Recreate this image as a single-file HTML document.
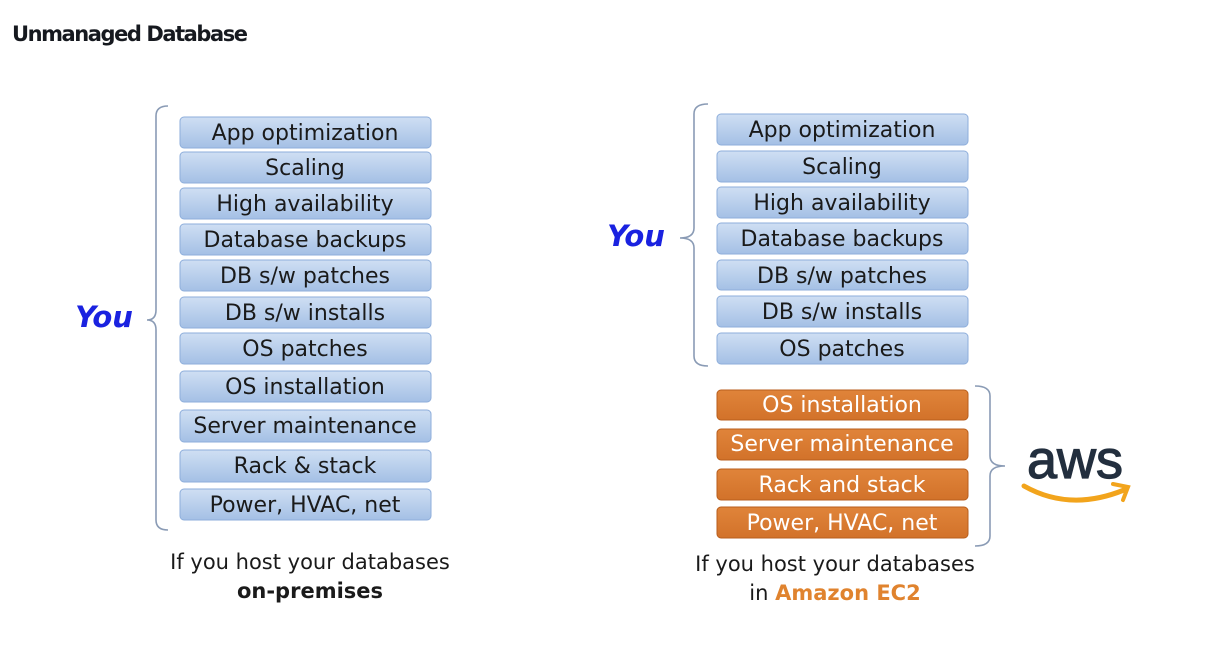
<!DOCTYPE html>
<html><head><style>
body{margin:0;background:#fff;width:1222px;height:648px;overflow:hidden}
svg text{font-family:"DejaVu Sans","Liberation Sans",sans-serif}
</style></head><body>
<svg width="1222" height="648" xmlns="http://www.w3.org/2000/svg">
<defs>
<linearGradient id="bl" x1="0" y1="0" x2="0" y2="1"><stop offset="0" stop-color="#cfdff3"/><stop offset="1" stop-color="#a4c0e5"/></linearGradient>
<linearGradient id="or" x1="0" y1="0" x2="0" y2="1"><stop offset="0" stop-color="#e0843a"/><stop offset="1" stop-color="#d2722a"/></linearGradient>
</defs>
<text x="12" y="41" font-weight="bold" font-size="21" fill="#16191f" style="font-family:'DejaVu Sans',sans-serif" textLength="236">Unmanaged Database</text>

<g font-size="22" fill="#1a1a1a" text-anchor="middle">
<g>
<rect x="180" y="117" width="251" height="31" rx="4" fill="url(#bl)" stroke="#8eaedb"/><text x="305" y="140">App optimization</text>
<rect x="180" y="152" width="251" height="31" rx="4" fill="url(#bl)" stroke="#8eaedb"/><text x="305" y="175">Scaling</text>
<rect x="180" y="188" width="251" height="31" rx="4" fill="url(#bl)" stroke="#8eaedb"/><text x="305" y="211">High availability</text>
<rect x="180" y="224" width="251" height="31" rx="4" fill="url(#bl)" stroke="#8eaedb"/><text x="305" y="247">Database backups</text>
<rect x="180" y="260" width="251" height="31" rx="4" fill="url(#bl)" stroke="#8eaedb"/><text x="305" y="283">DB s/w patches</text>
<rect x="180" y="297" width="251" height="31" rx="4" fill="url(#bl)" stroke="#8eaedb"/><text x="305" y="320">DB s/w installs</text>
<rect x="180" y="333" width="251" height="31" rx="4" fill="url(#bl)" stroke="#8eaedb"/><text x="305" y="356">OS patches</text>
<rect x="180" y="371" width="251" height="31" rx="4" fill="url(#bl)" stroke="#8eaedb"/><text x="305" y="394">OS installation</text>
<rect x="180" y="410" width="251" height="32" rx="4" fill="url(#bl)" stroke="#8eaedb"/><text x="305" y="433">Server maintenance</text>
<rect x="180" y="450" width="251" height="32" rx="4" fill="url(#bl)" stroke="#8eaedb"/><text x="305" y="473">Rack &amp; stack</text>
<rect x="180" y="489" width="251" height="31" rx="4" fill="url(#bl)" stroke="#8eaedb"/><text x="305" y="512">Power, HVAC, net</text>
</g>
<g>
<rect x="717" y="114" width="251" height="31" rx="4" fill="url(#bl)" stroke="#8eaedb"/><text x="842" y="137">App optimization</text>
<rect x="717" y="151" width="251" height="31" rx="4" fill="url(#bl)" stroke="#8eaedb"/><text x="842" y="174">Scaling</text>
<rect x="717" y="187" width="251" height="31" rx="4" fill="url(#bl)" stroke="#8eaedb"/><text x="842" y="210">High availability</text>
<rect x="717" y="223" width="251" height="31" rx="4" fill="url(#bl)" stroke="#8eaedb"/><text x="842" y="246">Database backups</text>
<rect x="717" y="260" width="251" height="30" rx="4" fill="url(#bl)" stroke="#8eaedb"/><text x="842" y="283">DB s/w patches</text>
<rect x="717" y="296" width="251" height="31" rx="4" fill="url(#bl)" stroke="#8eaedb"/><text x="842" y="319">DB s/w installs</text>
<rect x="717" y="333" width="251" height="31" rx="4" fill="url(#bl)" stroke="#8eaedb"/><text x="842" y="356">OS patches</text>
</g>
<g fill="#fff">
<rect x="717" y="390" width="251" height="30" rx="4" fill="url(#or)" stroke="#b85e1c"/><text x="842" y="412">OS installation</text>
<rect x="717" y="429" width="251" height="31" rx="4" fill="url(#or)" stroke="#b85e1c"/><text x="842" y="451">Server maintenance</text>
<rect x="717" y="469" width="251" height="31" rx="4" fill="url(#or)" stroke="#b85e1c"/><text x="842" y="492">Rack and stack</text>
<rect x="717" y="507" width="251" height="31" rx="4" fill="url(#or)" stroke="#b85e1c"/><text x="842" y="530">Power, HVAC, net</text>
</g>
</g>

<g fill="none" stroke="#8a9bb5" stroke-width="1.6">
<path d="M168 106 Q156 106 156 116 L156 310 Q156 320 147 320 Q156 320 156 330 L156 520 Q156 530 168 530"/>
<path d="M708 104 Q694 104 694 114 L694 228 Q694 238 680 238 Q694 238 694 248 L694 356 Q694 366 708 366"/>
<path d="M975 386 Q990 386 990 396 L990 456 Q990 466 1005 466 Q990 466 990 476 L990 536 Q990 546 975 546"/>
</g>

<text x="104" y="327" text-anchor="middle" font-size="29" font-weight="bold" font-style="italic" fill="#1a22e0">You</text>
<text x="636" y="246" text-anchor="middle" font-size="29" font-weight="bold" font-style="italic" fill="#1a22e0">You</text>

<text x="1075" y="478" text-anchor="middle" font-size="54" fill="#232f3e" stroke="#232f3e" stroke-width="1.2" style="font-family:'Liberation Sans',sans-serif">aws</text>
<path d="M1024 486 Q1070 512 1124 490" fill="none" stroke="#f2a41c" stroke-width="5" stroke-linecap="round"/>
<path d="M1113 484 L1128 487 L1123 500" fill="none" stroke="#f2a41c" stroke-width="4" stroke-linecap="round"/>

<g font-size="21" fill="#1a1a1a" text-anchor="middle">
<text x="310" y="569">If you host your databases</text>
<text x="310" y="598" font-weight="bold">on-premises</text>
<text x="835" y="571">If you host your databases</text>
<text x="835" y="600">in <tspan font-weight="bold" fill="#e0832e">Amazon EC2</tspan></text>
</g>
</svg>
</body></html>
